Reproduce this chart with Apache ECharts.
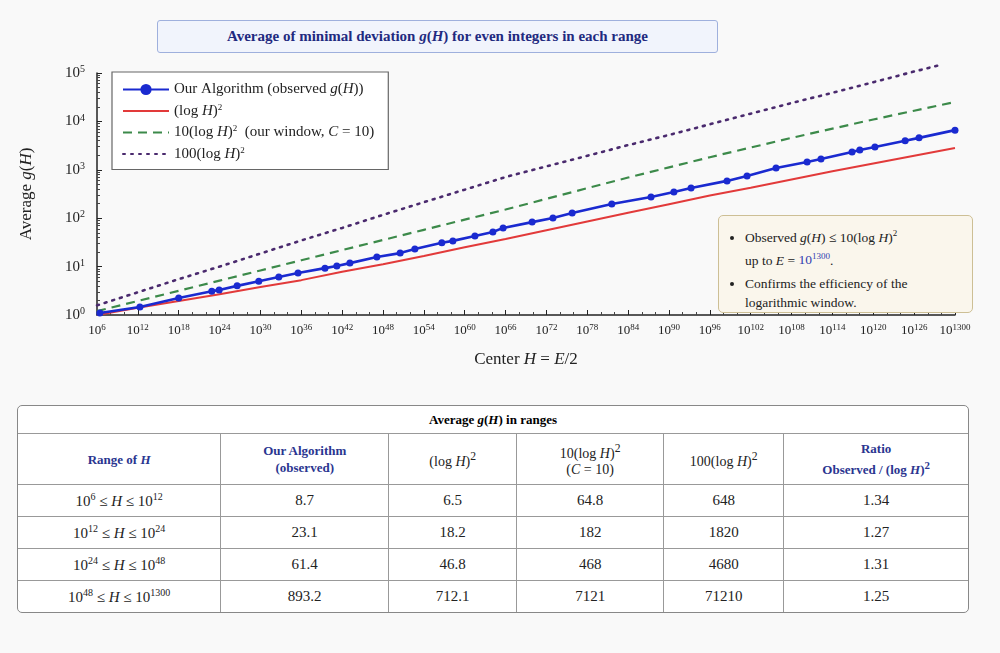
<!DOCTYPE html>
<html><head><meta charset="utf-8">
<script src="https://cdn.jsdelivr.net/npm/echarts@6/dist/echarts.min.js"></script>
<style>
body{margin:0;background:#f9f9f9;font-family:"Liberation Serif","DejaVu Serif",serif;}
#c{position:absolute;left:0;top:0;width:1000px;height:653px;}
#title{position:absolute;left:157px;top:20px;width:559px;height:31px;border:1.5px solid #9fb0dd;background:#f1f4fc;border-radius:3px;color:#1f2a80;font-weight:bold;font-size:15px;text-align:center;line-height:31px;}
#note{position:absolute;left:718px;top:215px;width:255px;height:98px;border:1.5px solid #cdbf95;background:#faf6ec;border-radius:5px;font-size:13.5px;color:#222;box-sizing:border-box;padding:8px 8px 0 12px;line-height:19px;}
#note ul{margin:0;padding-left:14px;}
#note li{margin-bottom:5px;}
table{position:absolute;left:17px;top:405px;width:952px;border-collapse:separate;border-spacing:0;border:1.5px solid #888;border-radius:5px;font-size:15px;background:#fff;}
td{border-right:1px solid #999;border-bottom:1px solid #999;text-align:center;padding:0;}
td:last-child{border-right:none;}
tr:last-child td{border-bottom:none;}
.h td{color:#2a3590;font-weight:bold;font-size:13px;height:50px;line-height:17px;}
.h td.n{color:#222;font-weight:normal;font-size:14px;}
.t td{font-weight:bold;font-size:13px;height:27px;}
.r td{height:31px;color:#222;}
i{font-style:italic;}
</style></head><body>
<div id="c"></div>
<div id="title">Average of minimal deviation <i>g</i>(<i>H</i>) for even integers in each range</div>
<div id="note"><ul><li>Observed <i>g</i>(<i>H</i>) ≤ 10(log <i>H</i>)<sup style="font-size:9px">2</sup><br>up to <i>E</i> = <span style="color:#3040b0">10<sup style="font-size:9px">1300</sup></span>.</li><li>Confirms the efficiency of the<br>logarithmic window.</li></ul></div>
<table id="tb"></table>
<script>
const xTickLabels=['6','12','18','24','30','36','42','48','54','60','66','72','78','84','90','96','102','108','114','120','126','1300'];
const observedX=[0.07,1.05,2.0,2.81,2.99,3.43,3.96,4.45,4.92,5.58,5.87,6.19,6.85,7.42,7.78,8.44,8.71,9.25,9.69,9.94,10.65,11.16,11.63,12.6,13.56,14.12,14.54,15.42,15.91,16.62,17.38,17.72,18.48,18.67,19.04,19.78,20.12,21];
const observedY=[1.1,1.46,2.24,3.1,3.3,4.0,5.0,6.1,7.4,9.3,10.3,11.8,15.8,19,23,31,34,43,52,63,83,101,128,196,274,347,420,590,745,1090,1450,1670,2340,2570,2950,3970,4570,6600];
const logH2=[1,1.41,1.95,2.69,3.8,5.25,7.8,11.2,16.6,25.1,37.2,56.2,85.1,129,195,295,427,631,933,1349,1950,2820];
const log10H2=[1.2,1.95,3.16,5.13,8.32,13.5,21.9,35.5,57.5,93.3,151,251,417,692,1122,1820,2884,4571,7079,10965,16596,25119];
const log100X=[0,1,2,3,4,5,6,7,8,9,10,11,12,13,14,15,16,17,18,19,20,20.7];
const log100H2=[1.58,2.95,5.5,10,18.6,34.7,63,117,214,389,708,1175,1950,3236,5248,8710,14454,23988,38905,64565,107152,151356];
const tableHead=['Range of <i>H</i>','Our Algorithm<br>(observed)','(log <i>H</i>)<sup>2</sup>','10(log <i>H</i>)<sup>2</sup><br>(<i>C</i> = 10)','100(log <i>H</i>)<sup>2</sup>','Ratio<br>Observed / (log <i>H</i>)<sup>2</sup>'];
const tableRanges=[['6','12'],['12','24'],['24','48'],['48','1300']];
const tableObserved=['8.7','23.1','61.4','893.2'];
const tableLog=['6.5','18.2','46.8','712.1'];
const table10=['64.8','182','468','7121'];
const table100=['648','1820','4680','71210'];
const tableRatio=['1.34','1.27','1.31','1.25'];

let h='<tr class="t"><td colspan="6">Average <i>g</i>(<i>H</i>) in ranges</td></tr><tr class="h">';
const widths=[204,168,128,147,120,185];
tableHead.forEach((t,i)=>{h+='<td class="'+(i==2||i==3||i==4?'n':'')+'" style="width:'+widths[i]+'px">'+t+'</td>';});
h+='</tr>';
for(let r=0;r<4;r++){
 h+='<tr class="r"><td>10<sup style="font-size:10px">'+tableRanges[r][0]+'</sup> ≤ <i>H</i> ≤ 10<sup style="font-size:10px">'+tableRanges[r][1]+'</sup></td><td>'+tableObserved[r]+'</td><td>'+tableLog[r]+'</td><td>'+table10[r]+'</td><td>'+table100[r]+'</td><td>'+tableRatio[r]+'</td></tr>';
}
document.getElementById('tb').innerHTML=h;

const idx=xTickLabels.map((_,i)=>i);
const serif='Liberation Serif';
const rich={s:{fontSize:9,verticalAlign:'top',padding:[0,0,6,0],fontFamily:serif,color:'#222'},n:{fontSize:13,fontFamily:serif,color:'#222'}};
const nameRich={i:{fontStyle:'italic',fontFamily:serif,fontSize:17,color:'#222'}};
const chart=echarts.init(document.getElementById('c'));
chart.setOption({
 backgroundColor:'transparent',
 animation:false,
 grid:{left:97,right:45,top:73,bottom:338},
 xAxis:{type:'value',min:0,max:21,interval:1,
  name:'Center {i|H} = {i|E}/2',nameLocation:'middle',nameGap:36,
  nameTextStyle:{fontFamily:serif,fontSize:17,color:'#222',rich:nameRich},
  axisLine:{show:true,lineStyle:{color:'#222',width:1.5}},
  axisTick:{show:true,inside:true,length:5,lineStyle:{color:'#222'}},
  minorTick:{show:true,splitNumber:3,length:3,lineStyle:{color:'#444'}},
  splitLine:{show:false},
  axisLabel:{margin:8,formatter:v=>'{n|10}{s|'+xTickLabels[v]+'}',rich:rich}},
 yAxis:{type:'log',min:1,max:100000,logBase:10,
  name:'Average {i|g}({i|H})',nameLocation:'middle',nameGap:62,nameRotate:90,
  nameTextStyle:{fontFamily:serif,fontSize:17,color:'#222',rich:nameRich},
  axisLine:{show:true,lineStyle:{color:'#222',width:1.5}},
  axisTick:{show:true,inside:true,length:5,lineStyle:{color:'#222'}},
  minorTick:{show:true,splitNumber:9,length:3,lineStyle:{color:'#444'}},
  splitLine:{show:false},
  axisLabel:{margin:12,formatter:v=>'{n|10}{s|'+Math.round(Math.log10(v))+'}',rich:{s:{fontSize:10,verticalAlign:'top',padding:[0,0,7,0],fontFamily:serif,color:'#222'},n:{fontSize:15,fontFamily:serif,color:'#222'}}}},
 legend:{orient:'vertical',left:112,top:72,width:300,padding:[10,14,8,10],itemGap:6,itemWidth:46,itemHeight:14,
  backgroundColor:'#fff',borderColor:'#666',borderWidth:1.2,
  textStyle:{fontFamily:serif,fontSize:15,color:'#222',rich:{s:{fontSize:9,verticalAlign:'top',padding:[0,0,7,0],fontFamily:serif},i:{fontStyle:'italic',fontSize:15,fontFamily:serif}}},
  formatter:n=>({
   'obs':'Our Algorithm (observed {i|g}({i|H}))',
   'l1':'(log {i|H}){s|2}',
   'l10':'10(log {i|H}){s|2}  (our window, {i|C} = 10)',
   'l100':'100(log {i|H}){s|2}'})[n],
  data:[{name:'obs'},{name:'l1',itemStyle:{opacity:0}},{name:'l10',itemStyle:{opacity:0}},{name:'l100',itemStyle:{opacity:0}}]},
 series:[
  {name:'l100',type:'line',data:log100X.map((x,i)=>[x,log100H2[i]]),symbol:'none',clip:false,lineStyle:{color:'#4a2a6e',width:2.6,type:[2,6],cap:'round'},itemStyle:{color:'#4a2a6e'}},
  {name:'l10',type:'line',data:idx.map(i=>[i,log10H2[i]]),symbol:'none',lineStyle:{color:'#3c8a4a',width:2.2,type:[9,6]},itemStyle:{color:'#3c8a4a'}},
  {name:'l1',type:'line',data:idx.map(i=>[i,logH2[i]]),symbol:'none',lineStyle:{color:'#e23a3a',width:2},itemStyle:{color:'#e23a3a'}},
  {name:'obs',type:'line',data:observedX.map((x,i)=>[x,observedY[i]]),symbol:'circle',symbolSize:7,lineStyle:{color:'#1a2ad0',width:2.6},itemStyle:{color:'#1a2ad0'}}
 ]
});
</script></body></html>
